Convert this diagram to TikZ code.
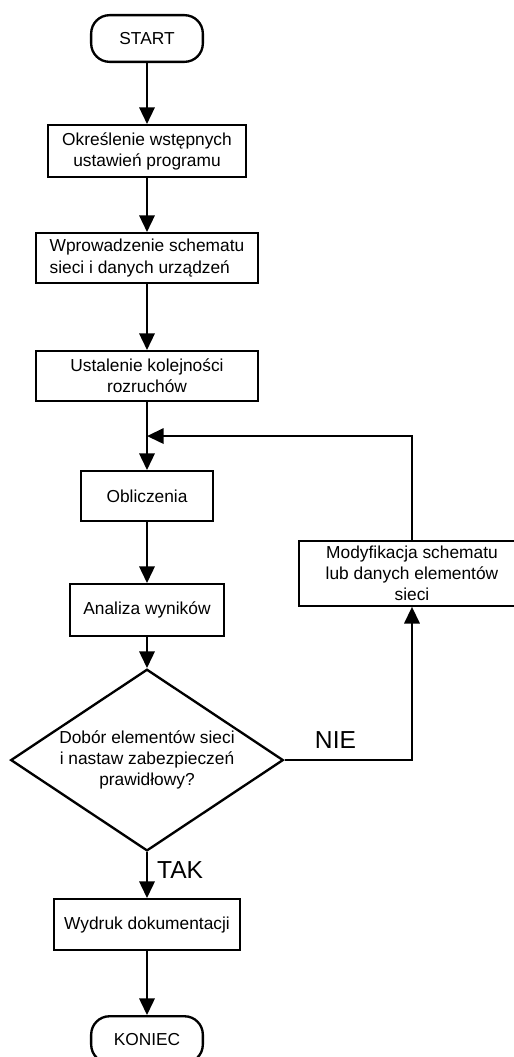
\documentclass[tikz,border=0pt]{standalone}
\usepackage{fontspec}
\setmainfont{Liberation Sans}
\usetikzlibrary{arrows.meta,positioning,shapes.geometric,calc}

\begin{document}
\begin{tikzpicture}[font=\fontsize{14.8}{18}\selectfont,line width=2pt,
  proc/.style={draw,minimum height=1.49cm,align=center,inner sep=2pt},
  term/.style={draw,rounded corners=0.55cm,minimum width=3.35cm,minimum height=1.40cm},
  decis/.style={draw,diamond,aspect=1.5,inner sep=0pt,minimum width=8.18cm,minimum height=5.45cm,align=center},
  flow/.style={-{Triangle[length=5mm,width=4.6mm]}},
  answer/.style={font=\fontsize{21}{24}\selectfont}]
\useasboundingbox (0,0) rectangle (15.42,-31.71);
\node[term] (start) at (4.41,-1.155) {START};
\node[proc,minimum width=5.93cm,minimum height=1.55cm,below=1.83cm of start] (ustaw) {Określenie wstępnych\\ustawień programu};
\node[proc,minimum width=6.65cm,align=left,below=1.62cm of ustaw] (schem) {Wprowadzenie schematu\\sieci i danych urządzeń};
\node[proc,minimum width=6.65cm,below=1.98cm of schem] (rozruch) {Ustalenie kolejności\\rozruchów};
\node[proc,minimum width=3.95cm,below=2.04cm of rozruch] (oblicz) {Obliczenia};
\node[proc,minimum width=4.61cm,minimum height=1.55cm,below=1.83cm of oblicz] (analiza) {Analiza wyników};
\node[decis,below=0.93cm of analiza] (dobor) {Dobór elementów sieci\\i nastaw zabezpieczeń\\prawidłowy?};
\node[proc,minimum width=5.57cm,minimum height=1.52cm,below=1.38cm of dobor] (wydruk) {Wydruk dokumentacji};
\node[term,below=1.92cm of wydruk] (koniec) {KONIEC};
\node[proc,minimum width=6.77cm,minimum height=1.94cm] (modyf) at (12.36,-17.2) {Modyfikacja schematu\\lub danych elementów\\sieci};
\draw[flow] (start) -- (ustaw);
\draw[flow] (ustaw) -- (schem);
\draw[flow] (schem) -- (rozruch);
\draw[flow] (rozruch) -- (oblicz);
\draw[flow] (oblicz) -- (analiza);
\draw[flow] (analiza) -- (dobor);
\draw[flow] (dobor) -- (wydruk) node[midway,right=1.5mm,yshift=1.5mm,answer]{TAK};
\draw[flow] (wydruk) -- (koniec);
\draw[flow] (dobor.east) -| (modyf.south) node[pos=0.2,above=2mm,answer]{NIE};
\draw[flow] (modyf.north) |- ($(rozruch.south)!0.5!(oblicz.north)$);
\end{tikzpicture}
\end{document}
